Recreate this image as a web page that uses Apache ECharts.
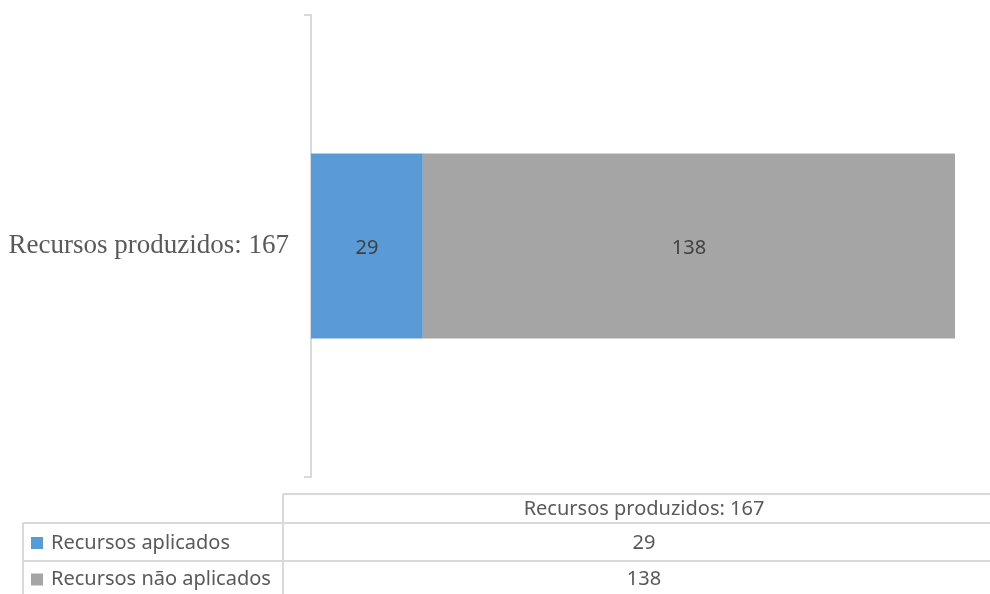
<!DOCTYPE html>
<html>
<head>
<meta charset="utf-8">
<script src="https://cdn.jsdelivr.net/npm/echarts@6/dist/echarts.min.js"></script>
<style>
html,body{margin:0;padding:0;background:#fff;}
#c{width:990px;height:594px;}
</style>
</head>
<body>
<div id="c"></div>
<script>
var categories = ['Recursos produzidos: 167'];
var seriesNames = ['Recursos aplicados', 'Recursos não aplicados'];
var aplicados = [29];
var naoAplicados = [138];
var seriesColors = ['#5b9bd5', '#a5a5a5'];
var seriesData = [aplicados, naoAplicados];

var chart = echarts.init(document.getElementById('c'));

var lineColor = '#d9d9d9';
var tblLeft = 23, tblMid = 283, tblRight = 990;
var rowY = [494, 523, 561, 599];
var graphics = [];
var tblFont = '20px "Noto Sans"';
function hline(x1, x2, y) {
  graphics.push({type: 'line', shape: {x1: x1, y1: y, x2: x2, y2: y}, style: {stroke: lineColor, lineWidth: 2}, silent: true});
}
function vline(x, y1, y2) {
  graphics.push({type: 'line', shape: {x1: x, y1: y1, x2: x, y2: y2}, style: {stroke: lineColor, lineWidth: 2}, silent: true});
}
hline(tblMid, tblRight, rowY[0]);
hline(tblLeft, tblRight, rowY[1]);
hline(tblLeft, tblRight, rowY[2]);
vline(tblMid, rowY[0], 594);
vline(tblLeft, rowY[1], 594);
var valueCenterX = 644;
graphics.push({type: 'text', x: valueCenterX, y: (rowY[0] + rowY[1]) / 2 + 1,
  style: {text: categories[0], fill: '#595959', font: tblFont, align: 'center', verticalAlign: 'middle'}, silent: true});
for (var i = 0; i < seriesNames.length; i++) {
  var cy = (rowY[i + 1] + rowY[i + 2]) / 2 + (i === 0 ? 1 : -0.5);
  graphics.push({type: 'rect', shape: {x: 31, y: cy - 6, width: 12, height: 12}, style: {fill: seriesColors[i]}, silent: true});
  graphics.push({type: 'text', x: 51, y: cy,
    style: {text: seriesNames[i], fill: '#595959', font: tblFont, align: 'left', verticalAlign: 'middle'}, silent: true});
  graphics.push({type: 'text', x: valueCenterX, y: cy,
    style: {text: String(seriesData[i][0]), fill: '#595959', font: tblFont, align: 'center', verticalAlign: 'middle'}, silent: true});
}

var series = seriesNames.map(function (name, i) {
  return {
    name: name,
    type: 'bar',
    stack: 'total',
    data: seriesData[i],
    barCategoryGap: '60%',
    itemStyle: {color: seriesColors[i], borderWidth: 0},
    label: {show: true, position: 'inside', color: '#404040', fontSize: 20, fontFamily: 'Noto Sans', offset: [0, 2]}
  };
});

chart.setOption({
  animation: false,
  backgroundColor: '#fff',
  grid: {left: 311, top: 15, width: 644, height: 462, containLabel: false},
  xAxis: {type: 'value', min: 0, max: 167, show: false},
  yAxis: {
    type: 'category',
    data: categories,
    axisLine: {show: true, lineStyle: {color: lineColor, width: 2}},
    axisTick: {show: true, length: 7, lineStyle: {color: lineColor, width: 2}},
    axisLabel: {color: '#595959', fontSize: 27, fontFamily: 'Liberation Serif', margin: 22, padding: [3, 0, 0, 0]}
  },
  series: series,
  graphic: graphics
});
</script>
</body>
</html>
